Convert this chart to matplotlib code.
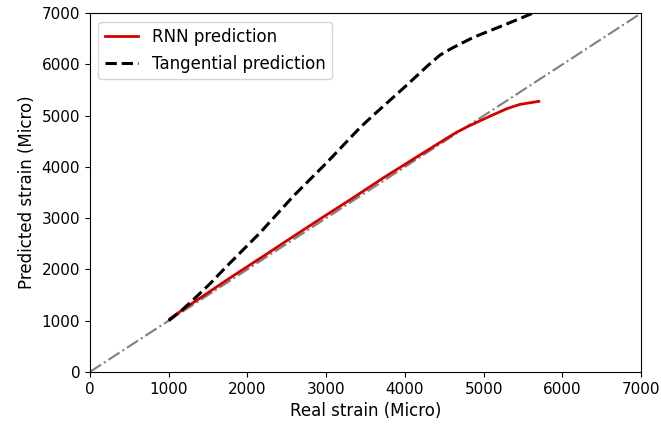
import matplotlib
matplotlib.use('agg')
import matplotlib.pyplot as plt

# values (micro strain)
rnn_real = [1017, 1250, 1500, 1750, 2000, 2250, 2500, 2750, 3000, 3300,
            3730, 4000, 4240, 4500, 4660, 4800, 5080, 5300, 5460, 5700]
rnn_pred = [1040, 1290, 1545, 1805, 2055, 2305, 2560, 2810, 3060, 3355,
            3790, 4050, 4280, 4530, 4680, 4790, 4990, 5140, 5220, 5280]

tan_real = [1000, 1150, 1313, 1525, 1737, 2160, 2584, 3008, 3431, 3600,
            4024, 4300, 4447, 4600, 4871, 5295, 5633, 5680]
tan_pred = [1000, 1180, 1409, 1720, 2061, 2714, 3431, 4084, 4769, 5010,
            5597, 5990, 6184, 6320, 6530, 6791, 7006, 7030]

ref_line = [0, 7000]
ticks = [0, 1000, 2000, 3000, 4000, 5000, 6000, 7000]

plt.rcParams['font.family'] = ['DejaVu Sans']
plt.rcParams['font.size'] = 11

fig = plt.figure(figsize=(6.61, 4.26), dpi=100)
ax = fig.add_axes([0.136, 0.127, 0.834, 0.842])

ax.plot(rnn_real, rnn_pred, color='#d40000', lw=2, label='RNN prediction', zorder=3)
ax.plot(tan_real, tan_pred, color='black', ls='--', lw=2.2, label='Tangential prediction', zorder=3)
ax.plot(ref_line, ref_line, color='gray', ls='-.', lw=1.5, zorder=2)

ax.set_xlim(0, 7000)
ax.set_ylim(0, 7000)
ax.set_xticks(ticks)
ax.set_yticks(ticks)
ax.set_xlabel('Real strain (Micro)', fontsize=12)
ax.set_ylabel('Predicted strain (Micro)', fontsize=12)
ax.legend(loc='upper left', fontsize=12)

plt.savefig('out.png', dpi=100)
plt.close()
